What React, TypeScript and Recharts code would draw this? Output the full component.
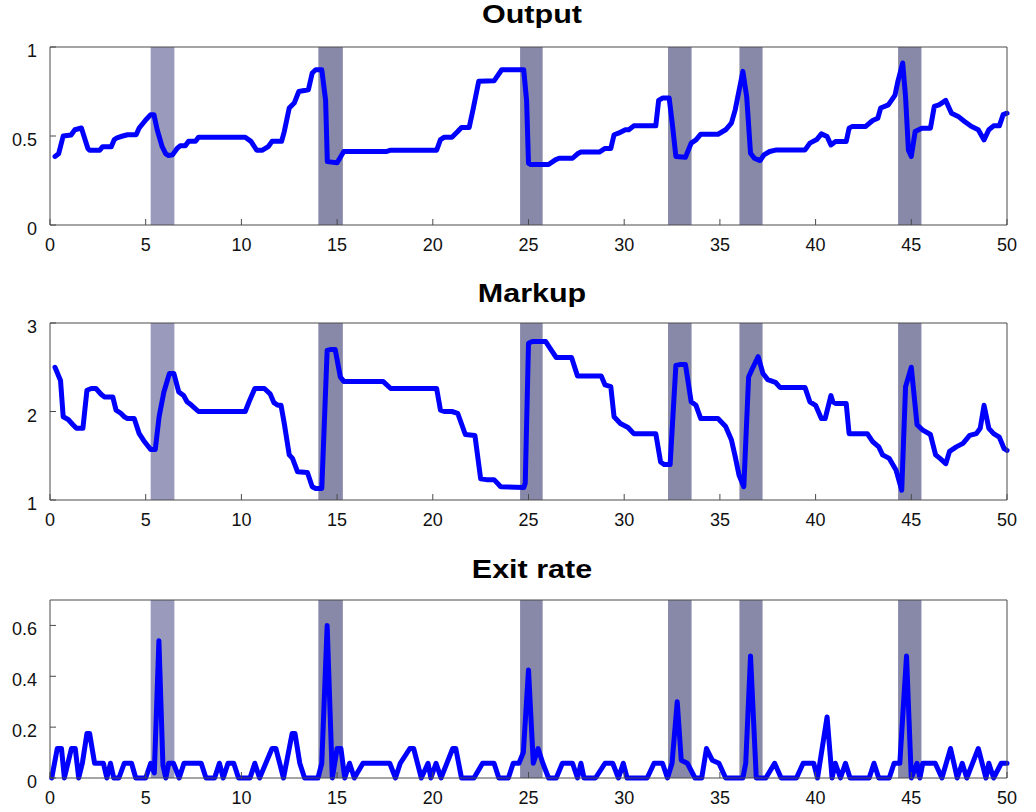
import React from 'react';
import { LineChart, Line, XAxis, YAxis, ReferenceArea } from 'recharts';

// ---------- data ----------
const xTicks = [0, 5, 10, 15, 20, 25, 30, 35, 40, 45, 50];

const bandStarts = [5.26, 14.02, 24.56, 32.29, 36.02, 44.31];
const bandEnds = [6.5, 15.3, 25.74, 33.52, 37.23, 45.53];

const outputX = [0.26, 0.45, 0.69, 1.1, 1.3, 1.64, 1.98, 2.07, 2.6, 2.75, 3.2, 3.36, 3.5, 3.8, 4.05, 4.5, 4.66, 5.0, 5.26, 5.43, 5.6, 5.86, 6.05, 6.2, 6.4, 6.64, 6.8, 7.07, 7.24, 7.6, 7.76, 10.2, 10.5, 10.8, 11.1, 11.4, 11.6, 12.1, 12.24, 12.5, 12.76, 13.0, 13.5, 13.7, 13.88, 14.2, 14.4, 14.49, 15.0, 15.28, 15.35, 17.6, 17.8, 20.2, 20.4, 20.6, 21.0, 21.3, 21.5, 21.9, 22.1, 22.4, 23.2, 23.6, 24.75, 24.9, 25.0, 25.1, 26.05, 26.4, 26.6, 27.3, 27.56, 27.74, 28.7, 29.0, 29.3, 29.47, 29.7, 30.06, 30.24, 30.5, 31.65, 31.8, 32.0, 32.35, 32.53, 32.7, 33.2, 33.5, 33.75, 34.0, 34.9, 35.3, 35.6, 35.8, 36.2, 36.4, 36.6, 36.8, 37.1, 37.3, 37.6, 37.96, 39.45, 39.7, 40.06, 40.3, 40.6, 40.8, 41.04, 41.6, 41.75, 41.9, 42.6, 42.98, 43.25, 43.4, 43.8, 44.15, 44.3, 44.55, 44.7, 44.85, 45.0, 45.2, 45.55, 46.0, 46.2, 46.45, 46.8, 47.1, 47.45, 47.8, 48.15, 48.5, 48.8, 49.05, 49.3, 49.6, 49.8, 50.0];
const outputY = [0.385, 0.4, 0.5, 0.506, 0.535, 0.545, 0.43, 0.42, 0.42, 0.44, 0.44, 0.48, 0.49, 0.5, 0.507, 0.507, 0.545, 0.59, 0.62, 0.62, 0.535, 0.44, 0.4, 0.39, 0.394, 0.43, 0.445, 0.445, 0.47, 0.47, 0.493, 0.493, 0.47, 0.42, 0.42, 0.44, 0.47, 0.47, 0.525, 0.657, 0.685, 0.75, 0.76, 0.854, 0.872, 0.872, 0.7, 0.356, 0.35, 0.4, 0.413, 0.413, 0.42, 0.42, 0.48, 0.493, 0.493, 0.525, 0.548, 0.548, 0.647, 0.807, 0.81, 0.872, 0.872, 0.7, 0.347, 0.34, 0.34, 0.366, 0.375, 0.375, 0.4, 0.41, 0.41, 0.43, 0.43, 0.507, 0.516, 0.535, 0.535, 0.557, 0.557, 0.7, 0.713, 0.713, 0.553, 0.385, 0.381, 0.46, 0.478, 0.51, 0.51, 0.535, 0.572, 0.647, 0.863, 0.72, 0.403, 0.375, 0.362, 0.394, 0.413, 0.422, 0.422, 0.46, 0.48, 0.512, 0.497, 0.45, 0.469, 0.469, 0.544, 0.553, 0.553, 0.587, 0.6, 0.657, 0.675, 0.73, 0.807, 0.91, 0.72, 0.42, 0.385, 0.525, 0.544, 0.544, 0.666, 0.675, 0.7, 0.628, 0.61, 0.58, 0.553, 0.535, 0.478, 0.535, 0.557, 0.557, 0.62, 0.628];

const markupX = [0.26, 0.55, 0.69, 0.95, 1.2, 1.38, 1.72, 1.93, 2.16, 2.4, 2.67, 2.84, 3.28, 3.45, 3.7, 3.88, 4.05, 4.4, 4.66, 4.9, 5.26, 5.5, 5.7, 5.95, 6.24, 6.47, 6.73, 6.98, 7.16, 7.4, 7.76, 10.2, 10.4, 10.7, 11.2, 11.5, 11.7, 11.9, 12.07, 12.24, 12.5, 12.67, 12.93, 13.45, 13.7, 13.88, 14.2, 14.48, 14.65, 14.9, 15.17, 15.35, 17.4, 17.8, 20.2, 20.4, 20.6, 21.0, 21.3, 21.7, 22.2, 22.5, 22.8, 23.2, 23.55, 24.75, 24.83, 25.0, 25.2, 25.9, 26.2, 26.45, 27.25, 27.56, 28.8, 29.0, 29.3, 29.47, 29.8, 30.2, 30.5, 31.65, 31.9, 32.1, 32.4, 32.7, 32.9, 33.2, 33.5, 33.75, 34.0, 34.9, 35.3, 35.6, 35.8, 36.0, 36.25, 36.5, 36.7, 37.0, 37.25, 37.5, 37.9, 38.15, 39.45, 39.7, 40.0, 40.3, 40.5, 40.8, 40.9, 41.04, 41.6, 41.75, 42.7, 42.98, 43.3, 43.5, 43.85, 44.2, 44.5, 44.7, 45.0, 45.3, 45.6, 46.0, 46.27, 46.5, 46.8, 47.0, 47.35, 47.7, 48.05, 48.4, 48.6, 48.8, 49.05, 49.3, 49.6, 49.85, 50.0];
const markupY = [2.5, 2.35, 1.94, 1.91, 1.85, 1.81, 1.81, 2.24, 2.26, 2.26, 2.195, 2.165, 2.165, 2.015, 1.98, 1.94, 1.92, 1.92, 1.75, 1.67, 1.57, 1.57, 1.94, 2.22, 2.43, 2.43, 2.22, 2.18, 2.11, 2.07, 2.0, 2.0, 2.11, 2.26, 2.26, 2.2, 2.1, 2.07, 2.07, 1.865, 1.51, 1.47, 1.32, 1.31, 1.15, 1.13, 1.13, 2.69, 2.7, 2.7, 2.39, 2.34, 2.34, 2.26, 2.26, 2.015, 2.0, 2.0, 1.98, 1.74, 1.73, 1.24, 1.23, 1.23, 1.15, 1.14, 1.19, 2.77, 2.79, 2.79, 2.69, 2.61, 2.61, 2.4, 2.4, 2.3, 2.28, 1.94, 1.865, 1.82, 1.75, 1.75, 1.43, 1.4, 1.4, 2.52, 2.53, 2.53, 2.11, 2.07, 1.92, 1.92, 1.83, 1.68, 1.49, 1.28, 1.15, 2.39, 2.485, 2.62, 2.43, 2.36, 2.33, 2.27, 2.27, 2.11, 2.07, 1.92, 1.92, 2.18, 2.11, 2.09, 2.09, 1.75, 1.75, 1.66, 1.6, 1.51, 1.47, 1.34, 1.11, 2.28, 2.5, 1.85, 1.79, 1.74, 1.51, 1.47, 1.41, 1.55, 1.6, 1.64, 1.73, 1.75, 1.81, 2.07, 1.81, 1.75, 1.71, 1.58, 1.56];

const exitX = [0.09, 0.38, 0.6, 0.75, 1.12, 1.32, 1.5, 1.69, 1.93, 2.07, 2.33, 2.79, 2.97, 3.16, 3.33, 3.6, 3.88, 4.26, 4.48, 5.0, 5.26, 5.45, 5.69, 5.9, 6.05, 6.2, 6.45, 6.75, 7.0, 7.9, 8.15, 8.6, 8.85, 9.05, 9.3, 9.6, 9.85, 10.45, 10.7, 10.95, 11.6, 11.8, 12.2, 12.65, 12.8, 13.05, 13.3, 14.0, 14.2, 14.48, 14.75, 15.0, 15.2, 15.4, 15.65, 15.9, 16.35, 17.75, 18.05, 18.3, 18.8, 19.0, 19.4, 19.75, 19.9, 20.17, 20.43, 21.04, 21.2, 21.5, 22.15, 22.6, 23.2, 23.45, 23.95, 24.2, 24.5, 24.73, 25.0, 25.25, 25.5, 25.75, 26.05, 26.45, 26.77, 27.3, 27.56, 27.74, 27.9, 28.5, 29.0, 29.4, 29.7, 29.95, 30.15, 31.2, 31.56, 32.0, 32.26, 32.5, 32.77, 32.98, 33.3, 33.7, 34.05, 34.3, 34.6, 34.95, 35.3, 36.2, 36.35, 36.6, 36.9, 37.4, 37.86, 38.2, 39.0, 39.35, 39.9, 40.1, 40.6, 40.86, 41.03, 41.3, 41.56, 41.8, 42.8, 43.05, 43.3, 43.85, 44.1, 44.4, 44.75, 45.0, 45.3, 45.45, 45.6, 46.25, 46.6, 47.05, 47.4, 47.66, 47.9, 48.5, 48.9, 49.05, 49.3, 49.7, 50.0];
const exitY = [0, 0.116, 0.116, 0, 0.116, 0.116, 0, 0.058, 0.175, 0.175, 0.058, 0.058, 0, 0.058, 0, 0, 0.058, 0.058, 0, 0, 0.058, 0.02, 0.54, 0.05, 0, 0.058, 0.058, 0, 0.058, 0.058, 0, 0, 0.058, 0, 0.058, 0.058, 0, 0, 0.058, 0, 0.116, 0.116, 0, 0.175, 0.175, 0.058, 0, 0, 0.058, 0.6, 0, 0.116, 0.116, 0, 0.058, 0, 0.058, 0.058, 0, 0.058, 0.116, 0.116, 0, 0.058, 0, 0.058, 0, 0.116, 0.116, 0, 0, 0.058, 0.058, 0, 0, 0.058, 0.058, 0.1, 0.425, 0.058, 0.116, 0.058, 0, 0, 0.058, 0.058, 0, 0.058, 0, 0, 0.058, 0.058, 0, 0.058, 0, 0, 0.058, 0.058, 0, 0.058, 0.3, 0.07, 0.058, 0, 0, 0.116, 0.07, 0.058, 0, 0, 0.058, 0.48, 0, 0, 0.058, 0, 0, 0.058, 0.058, 0, 0.24, 0, 0.058, 0, 0.058, 0, 0, 0.058, 0, 0, 0.058, 0.058, 0.48, 0, 0.058, 0, 0.058, 0.058, 0, 0.116, 0, 0.058, 0, 0.116, 0, 0.058, 0, 0.058, 0.058];

const outputTicks = [0, 0.5, 1];
const markupTicks = [1, 2, 3];
const exitTicks = [0, 0.2, 0.4, 0.6];

const toRows = (xs: number[], ys: number[]) => xs.map((x, i) => ({ x, y: ys[i] }));

// ---------- styling ----------
const FONT = '"Liberation Sans", Arial, Helvetica, sans-serif';
const AXIS = '#4a4a4a';

const XTick = (props: any) => {
  const { x, y, payload } = props;
  return (
    <text x={x} y={y} dy={12.8} textAnchor="middle" fontSize={18} fontFamily={FONT} fill="#111">
      {String(payload.value)}
    </text>
  );
};

const YTick = (props: any) => {
  const { x, y, payload } = props;
  return (
    <text x={x} y={y} dy={10} textAnchor="end" fontSize={18} fontFamily={FONT} fill="#111">
      {String(payload.value)}
    </text>
  );
};

type PanelProps = {
  title: string;
  top: number;
  plotHeight: number;
  rows: { x: number; y: number }[];
  domain: [number, number];
  ticks: number[];
  titleCenter: number;
};

const Panel = ({ title, top, plotHeight, rows, domain, ticks, titleCenter }: PanelProps) => {
  const height = 47 + plotHeight + 35;
  return (
    <>
      <div
        style={{
          position: 'absolute',
          left: 232,
          top: titleCenter - 12.5,
          width: 600,
          textAlign: 'center',
          fontFamily: FONT,
          fontWeight: 'bold',
          fontSize: 25,
          lineHeight: '25px',
          color: '#000',
          transform: 'scaleX(1.22)',
          transformOrigin: 'center',
        }}
      >
        {title}
      </div>
      <div style={{ position: 'absolute', left: 0, top }}>
        <LineChart
          width={1036}
          height={height}
          data={rows}
          margin={{ top: 46, right: 28, left: 10, bottom: 5 }}
        >
          <XAxis
            dataKey="x"
            type="number"
            domain={[0, 50]}
            ticks={xTicks}
            interval={0}
            height={30}
            tickSize={-6}
            tickMargin={19}
            stroke={AXIS}
            tick={<XTick />}
          />
          <XAxis
            xAxisId="top"
            orientation="top"
            dataKey="x"
            type="number"
            domain={[0, 50]}
            ticks={xTicks}
            interval={0}
            height={1}
            tickSize={-6}
            stroke={AXIS}
            tick={false}
          />
          <YAxis
            type="number"
            domain={domain}
            ticks={ticks}
            interval={0}
            width={40}
            tickSize={-6}
            tickMargin={19}
            stroke={AXIS}
            tick={<YTick />}
          />
          <YAxis
            yAxisId="right"
            orientation="right"
            type="number"
            domain={domain}
            ticks={ticks}
            interval={0}
            width={1}
            tickSize={-6}
            stroke={AXIS}
            tick={false}
          />
          {bandStarts.map((s, i) => (
            <ReferenceArea
              key={i}
              x1={s}
              x2={bandEnds[i]}
              fill={i === 0 ? '#9a9abd' : '#8888a9'}
              fillOpacity={1}
              stroke="none"
            />
          ))}
          <Line
            dataKey="y"
            type="linear"
            stroke="#0000ff"
            strokeWidth={5}
            strokeLinejoin="round"
            strokeLinecap="round"
            dot={false}
            activeDot={false}
            isAnimationActive={false}
          />
        </LineChart>
      </div>
    </>
  );
};

export default function App() {
  return (
    <div style={{ position: 'absolute', left: 0, top: 0, width: 1036, height: 812, background: '#fff', overflow: 'hidden' }}>
      <Panel title="Output" top={0} plotHeight={178} rows={toRows(outputX, outputY)} domain={[0, 1]} ticks={outputTicks} titleCenter={14} />
      <Panel title="Markup" top={276} plotHeight={177} rows={toRows(markupX, markupY)} domain={[1, 3]} ticks={markupTicks} titleCenter={293} />
      <Panel title="Exit rate" top={553} plotHeight={178} rows={toRows(exitX, exitY)} domain={[0, 0.7]} ticks={exitTicks} titleCenter={569} />
    </div>
  );
}
